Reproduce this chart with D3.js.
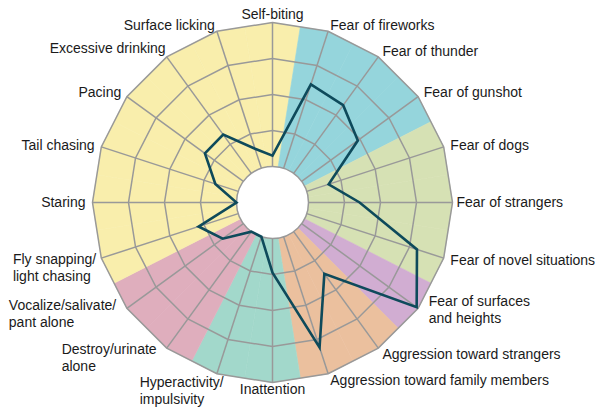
<!DOCTYPE html>
<html>
<head>
<meta charset="utf-8">
<script src="https://cdn.jsdelivr.net/npm/d3@7"></script>
<style>
  body { margin: 0; background: #fff; }
  svg { display: block; }
</style>
</head>
<body>
<div id="chart"></div>
<script>
// axes, clockwise from the top
const behaviours = [
  "Self-biting", "Fear of fireworks", "Fear of thunder", "Fear of gunshot",
  "Fear of dogs", "Fear of strangers", "Fear of novel situations",
  "Fear of surfaces|and heights", "Aggression toward strangers",
  "Aggression toward family members", "Inattention", "Hyperactivity/|impulsivity",
  "Destroy/urinate|alone", "Vocalize/salivate/|pant alone",
  "Fly snapping/|light chasing", "Staring", "Tail chasing", "Pacing",
  "Excessive drinking", "Surface licking"
];

// score per axis (0 = inner hole, 4 = outer ring)
const scores = [0.3, 2.45, 2.34, 1.93, 0.64, 1.42, 3.22, 3.95, 1.45, 3.23,
                0.95, 0.0, 0.0, 0.71, 1.16, 0.0, 0.67, 1.32, 1.33, 0.57];

// behaviour group of each axis
const groupOf = ["comp", "noise", "noise", "noise", "fear", "fear", "fear", "height",
                 "aggr", "aggr", "adhd", "adhd", "sep", "sep",
                 "comp", "comp", "comp", "comp", "comp", "comp"];

const groups = ["comp", "noise", "fear", "height", "aggr", "adhd", "sep"];
const groupColors = ["#f9eeac", "#95d5dc", "#d6e1b4", "#d1add2", "#ebc09e", "#a2d8cb", "#dfaebd"];

const ringTicks = [1, 2, 3, 4];

// set the dimensions
const width = 595, height = 410;
const cx = 272.5, cy = 202.5;
const innerR = 36, outerR = 180;

const svg = d3.select("#chart")
  .append("svg")
  .attr("width", width)
  .attr("height", height)
  .append("g")
  .attr("transform", `translate(${cx},${cy})`);

const n = behaviours.length;
const step = 2 * Math.PI / n;

// angle scale: index -> radians (0 at top, clockwise)
const angle = d3.scaleLinear().domain([0, n]).range([0, 2 * Math.PI]);
const radius = d3.scaleLinear().domain([0, 4]).range([innerR, outerR]);
const color = d3.scaleOrdinal().domain(groups).range(groupColors);

const px = (a, r) => r * Math.sin(a);
const py = (a, r) => -r * Math.cos(a);

// coloured sectors, one wedge per axis
const half = step / 2;
const edgeR = outerR * Math.cos(half);
svg.append("g")
  .selectAll("path")
  .data(behaviours)
  .join("path")
  .attr("d", (d, i) => {
    const a = angle(i);
    return `M0,0L${px(a - half, edgeR)},${py(a - half, edgeR)}` +
           `L${px(a, outerR)},${py(a, outerR)}` +
           `L${px(a + half, edgeR)},${py(a + half, edgeR)}Z`;
  })
  .attr("fill", (d, i) => color(groupOf[i]))
  .attr("stroke", (d, i) => color(groupOf[i]))
  .attr("stroke-width", 0.6);

// ring polygons
const ringLine = d3.lineRadial()
  .angle((d, i) => angle(i))
  .radius(d => d)
  .curve(d3.curveLinearClosed);

svg.append("g")
  .selectAll("path")
  .data(ringTicks)
  .join("path")
  .attr("d", t => ringLine(d3.range(n).map(() => radius(t))))
  .attr("fill", "none")
  .attr("stroke", "#999")
  .attr("stroke-width", 1.5);

// spokes
svg.append("g")
  .selectAll("line")
  .data(behaviours)
  .join("line")
  .attr("x1", (d, i) => px(angle(i), radius(0)))
  .attr("y1", (d, i) => py(angle(i), radius(0)))
  .attr("x2", (d, i) => px(angle(i), radius(4)))
  .attr("y2", (d, i) => py(angle(i), radius(4)))
  .attr("stroke", "#999")
  .attr("stroke-width", 1.5);

// white hole in the middle
svg.append("circle")
  .attr("r", radius(0))
  .attr("fill", "#fff")
  .attr("stroke", "#999")
  .attr("stroke-width", 1.5);

// score line
svg.append("path")
  .attr("d", ringLine(scores.map(v => radius(v))))
  .attr("fill", "none")
  .attr("stroke", "#0e4a5b")
  .attr("stroke-width", 2.6)
  .attr("stroke-linejoin", "miter");

// labels
const labelNudge = {
  "Fear of surfaces|and heights": [5, -3],
  "Fear of strangers": [-3, 0],
  "Hyperactivity/|impulsivity": [9, 10],
  "Destroy/urinate|alone": [-6, 4],
  "Vocalize/salivate/|pant alone": [-5, 1.5],
  "Fly snapping/|light chasing": [1.5, 7],
  "Excessive drinking": [3, -3],
  "Self-biting": [0, -1.5]
};

const labelR = outerR + 7;
const lineH = 16.8;

const labels = svg.append("g")
  .attr("font-family", "'Liberation Sans', Arial, sans-serif")
  .attr("font-size", 14)
  .attr("fill", "#1a1a1a");

behaviours.forEach((name, i) => {
  const a = angle(i);
  const s = Math.sin(a);
  const nudge = labelNudge[name] || [0, 0];
  const x = px(a, labelR) + nudge[0];
  const y = py(a, labelR) + nudge[1];
  const lines = name.split("|");
  const anchor = Math.abs(s) < 0.05 ? "middle" : (s > 0 ? "start" : "end");

  const t = labels.append("text")
    .attr("text-anchor", lines.length > 1 ? "start" : anchor);

  const top = y - (lines.length - 1) * lineH / 2;
  lines.forEach((ln, k) => {
    t.append("tspan")
      .attr("x", x)
      .attr("y", top + k * lineH)
      .attr("dy", "0.35em")
      .text(ln);
  });

  // left-side multi-line labels: left aligned block ending at x
  if (lines.length > 1 && anchor === "end") {
    const w = d3.max(t.selectAll("tspan").nodes(), nd => nd.getComputedTextLength());
    t.selectAll("tspan").attr("x", x - w);
  }
});
</script>
</body>
</html>
